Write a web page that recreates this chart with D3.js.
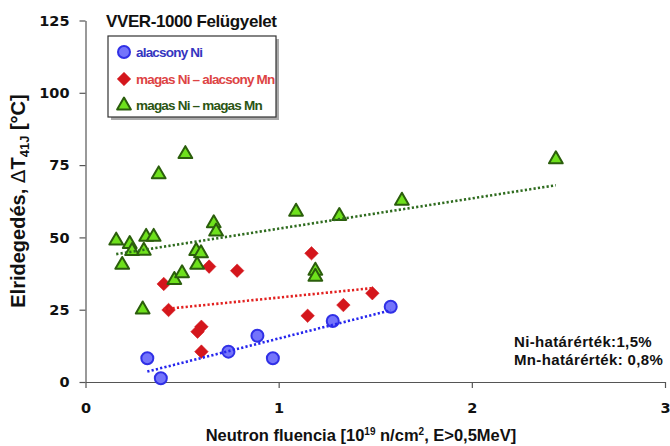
<!DOCTYPE html>
<html>
<head>
<meta charset="utf-8">
<script src="https://cdn.jsdelivr.net/npm/d3@7"></script>
<style>
  body { margin: 0; background: #fff; }
  svg { display: block; }
  .axis path, .axis line { stroke: #555; stroke-width: 1.2; }
  .axis text { font-family: "DejaVu Sans", Verdana, sans-serif; font-weight: bold; font-size: 14.5px; fill: #111; }
</style>
</head>
<body>
<div id="chart"></div>
<script>
// alacsony Ni
const lowNiX = [0.32, 0.39, 0.74, 0.89, 0.97, 1.28, 1.58]
const lowNiY = [8.2, 1.3, 10.5, 16.0, 8.2, 21.1, 26.0]
// magas Ni - alacsony Mn
const highNiLowMnX = [0.405, 0.43, 0.64, 0.785, 0.60, 0.58, 0.60, 1.17, 1.15, 1.335, 1.485]
const highNiLowMnY = [33.9, 24.9, 39.9, 38.5, 19.1, 17.4, 10.5, 44.5, 22.9, 26.6, 30.7]
// magas Ni - magas Mn
const highNiHighMnX = [0.517, 0.379, 1.09, 1.314, 0.664, 0.676, 0.159, 0.314, 0.353, 0.229, 0.241, 0.302,
    0.573, 0.598, 0.578, 0.19, 0.296, 0.46, 0.50, 1.19, 1.19, 1.638, 2.435]
const highNiHighMnY = [78.8, 71.8, 58.9, 57.4, 54.9, 52.0, 48.9, 50.2, 50.2, 47.7, 45.3, 45.4,
    45.3, 44.5, 40.5, 40.5, 25.1, 35.3, 37.6, 38.5, 36.4, 62.7, 77.0]

const xTicks = [0, 1, 2, 3]
const yTicks = [0, 25, 50, 75, 100, 125]
const seriesNames = ["alacsony Ni", "magas Ni \u2013 alacsony Mn", "magas Ni \u2013 magas Mn"]

const width = 670, height = 446

const xScale = d3.scaleLinear().domain([0, 3]).range([85.5, 665])
const yScale = d3.scaleLinear().domain([0, 125]).range([382, 20.5])

const svg = d3.select("#chart").append("svg")
    .attr("width", width)
    .attr("height", height)

function zip(xs, ys) {
    return xs.map((x, i) => ({ x: x, y: ys[i] }))
}

// least squares fit, drawn from min x to max x like the Excel trendline
function trend(data) {
    const mx = d3.mean(data, d => d.x), my = d3.mean(data, d => d.y)
    const sxy = d3.sum(data, d => (d.x - mx) * (d.y - my))
    const sxx = d3.sum(data, d => (d.x - mx) * (d.x - mx))
    const a = sxy / sxx, b = my - a * mx
    const [x0, x1] = d3.extent(data, d => d.x)
    return [{ x: x0, y: a * x0 + b }, { x: x1, y: a * x1 + b }]
}

const series = [
    { name: seriesNames[0], data: zip(lowNiX, lowNiY), shape: "circle", fill: "#7474fb", stroke: "#3030e6", line: "#2626ee", text: "#3535c0" },
    { name: seriesNames[1], data: zip(highNiLowMnX, highNiLowMnY), shape: "diamond", fill: "#d4161c", stroke: "#d4161c", line: "#e2201f", text: "#dd4444" },
    { name: seriesNames[2], data: zip(highNiHighMnX, highNiHighMnY), shape: "triangle", fill: "#6ee11c", stroke: "#2b5e0c", line: "#2e6b1e", text: "#2b5513" }
]

// axes
const xAxis = d3.axisBottom(xScale).tickValues(xTicks).tickFormat(d3.format("d")).tickSize(6).tickSizeOuter(0).tickPadding(15)
const yAxis = d3.axisLeft(yScale).tickValues(yTicks).tickFormat(d3.format("d")).tickSize(6).tickSizeOuter(0).tickPadding(10)

svg.append("g")
    .attr("class", "axis")
    .attr("transform", `translate(0,${yScale(0)})`)
    .call(xAxis)

svg.append("g")
    .attr("class", "axis")
    .attr("transform", `translate(${xScale(0)},0)`)
    .call(yAxis)

function drawMarker(sel, shape, s) {
    if (shape == "circle") {
        sel.append("circle").attr("r", 6 * s).attr("stroke-width", 2)
    } else if (shape == "diamond") {
        sel.append("path").attr("d", d3.symbol(d3.symbolSquare, 92 * s * s)()).attr("transform", "rotate(45)").attr("stroke-width", 0.5)
    } else {
        sel.append("path").attr("d", d3.symbol(d3.symbolTriangle, 82 * s * s)()).attr("stroke-width", 2).attr("stroke-linejoin", "round")
    }
}

// markers
series.forEach(s => {
    svg.append("g")
        .selectAll("g")
        .data(s.data)
        .enter().append("g")
        .attr("transform", d => `translate(${xScale(d.x)},${yScale(d.y)})`)
        .attr("fill", s.fill)
        .attr("stroke", s.stroke)
        .each(function () { drawMarker(d3.select(this), s.shape, 1) })
})

// dotted trendlines
const line = d3.line().x(d => xScale(d.x)).y(d => yScale(d.y))
series.forEach(s => {
    svg.append("path")
        .datum(trend(s.data))
        .attr("d", line)
        .attr("fill", "none")
        .attr("stroke", s.line)
        .attr("stroke-width", 2.6)
        .attr("stroke-dasharray", "2.2,2.2")
})

// title
svg.append("text")
    .attr("x", 106).attr("y", 27)
    .attr("font-family", "Liberation Sans, Arial, sans-serif")
    .attr("font-weight", "bold")
    .attr("font-size", 17)
    .attr("letter-spacing", -0.4)
    .attr("fill", "#111")
    .text("VVER-1000 Felügyelet")

// legend
const legend = svg.append("g")
legend.append("rect").attr("x", 111).attr("y", 39).attr("width", 168).attr("height", 81).attr("fill", "#aaa")
legend.append("rect").attr("x", 108).attr("y", 36).attr("width", 168).attr("height", 81)
    .attr("fill", "#fff").attr("stroke", "#333").attr("stroke-width", 1.2)

const legendRows = [52, 79, 105.5]
series.forEach((s, i) => {
    const g = legend.append("g").attr("transform", `translate(124,${legendRows[i]})`)
        .attr("fill", s.fill).attr("stroke", s.stroke)
    drawMarker(g, s.shape, 1)
    legend.append("text")
        .attr("x", 136).attr("y", legendRows[i] + 4.5)
        .attr("font-family", "Liberation Sans, Arial, sans-serif")
        .attr("font-weight", "bold")
        .attr("font-size", 13.5)
        .attr("letter-spacing", -0.8)
        .attr("fill", s.text)
        .text(s.name)
})

// y axis label
const yLabel = svg.append("text")
    .attr("transform", "translate(25,201) rotate(-90)")
    .attr("text-anchor", "middle")
    .attr("font-family", "Liberation Sans, Arial, sans-serif")
    .attr("font-weight", "bold")
    .attr("font-size", 20)
    .attr("fill", "#111")
yLabel.append("tspan").text("Elridegedés,  ")
yLabel.append("tspan").attr("font-weight", "normal").attr("font-family", "DejaVu Sans, sans-serif").text("\u0394")
yLabel.append("tspan").text("T")
yLabel.append("tspan").attr("font-size", 13).attr("dy", 4).text("41J")
yLabel.append("tspan").attr("dy", -4).text(" [°C]")

// x axis label
const xLabel = svg.append("text")
    .attr("x", 361).attr("y", 441)
    .attr("text-anchor", "middle")
    .attr("font-family", "Liberation Sans, Arial, sans-serif")
    .attr("font-weight", "bold")
    .attr("font-size", 16.5)
    .attr("fill", "#111")
xLabel.append("tspan").text("Neutron fluencia [10")
xLabel.append("tspan").attr("font-size", 10).attr("dy", -6).text("19")
xLabel.append("tspan").attr("dy", 6).text(" n/cm")
xLabel.append("tspan").attr("font-size", 10).attr("dy", -6).text("2")
xLabel.append("tspan").attr("dy", 6).text(", E>0,5MeV]")

// note
const notes = ["Ni-határérték:1,5%", "Mn-határérték: 0,8%"]
svg.selectAll(".note")
    .data(notes)
    .enter().append("text")
    .attr("class", "note")
    .attr("x", 514)
    .attr("y", (d, i) => 347 + i * 18)
    .attr("font-family", "Liberation Sans, Arial, sans-serif")
    .attr("font-weight", "bold")
    .attr("font-size", 15)
    .attr("letter-spacing", 0.35)
    .attr("fill", "#111")
    .text(d => d)
</script>
</body>
</html>
